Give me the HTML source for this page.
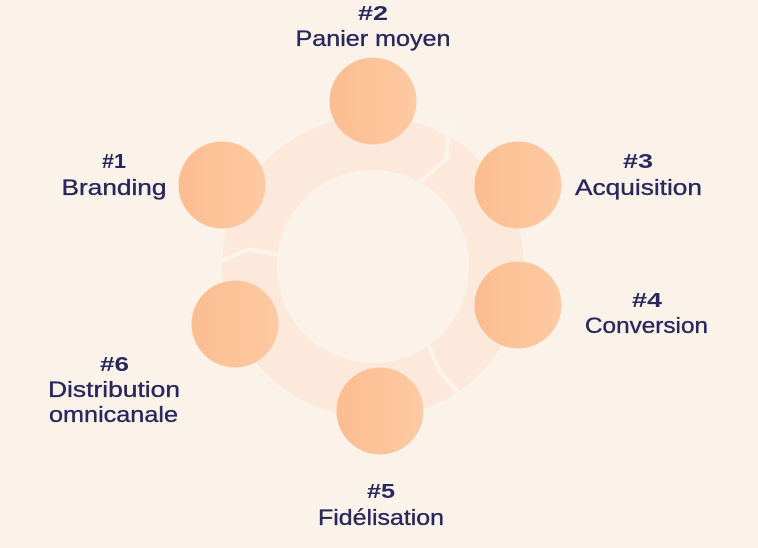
<!DOCTYPE html>
<html>
<head>
<meta charset="utf-8">
<style>
  html,body{margin:0;padding:0;background:#fbf3ea;}
  body{width:758px;height:548px;overflow:hidden;}
  svg{display:block;}
  .b{font-family:"Liberation Sans",sans-serif;font-weight:bold;font-size:20px;fill:#29285c;}
  .r{font-family:"Liberation Sans",sans-serif;font-size:22px;fill:#29285c;stroke:#29285c;stroke-width:0.35px;}
</style>
</head>
<body>
<svg width="758" height="548" viewBox="0 0 758 548" xmlns="http://www.w3.org/2000/svg">
  <defs>
    <linearGradient id="g" x1="0" y1="0" x2="1" y2="0">
      <stop offset="0" stop-color="#fcbd90"/>
      <stop offset="1" stop-color="#fdcaa3"/>
    </linearGradient>
  </defs>
  <rect width="758" height="548" fill="#fbf3ea"/>
  <!-- ring -->
  <circle cx="373" cy="267" r="123.5" fill="none" stroke="#fce9dc" stroke-width="55"/>
  <circle cx="373" cy="266" r="96" fill="#fbf3ea"/>
  <!-- gaps -->
  <path d="M448 118 L447 158 L420 182" fill="none" stroke="#fbf4ec" stroke-width="4"/>
  <path d="M218 262 L250 249 L282 256" fill="none" stroke="#fbf4ec" stroke-width="4"/>
  <path d="M428 345 L440 372 L462 396" fill="none" stroke="#fbf4ec" stroke-width="4"/>
  <!-- circles -->
  <circle cx="373" cy="101" r="43.5" fill="url(#g)"/>
  <circle cx="222" cy="185" r="43.5" fill="url(#g)"/>
  <circle cx="518" cy="185" r="43.5" fill="url(#g)"/>
  <circle cx="518" cy="305" r="43.5" fill="url(#g)"/>
  <circle cx="235" cy="324" r="43.5" fill="url(#g)"/>
  <circle cx="380" cy="411" r="43.5" fill="url(#g)"/>
  <!-- labels -->
  <text class="b" x="373" y="20" text-anchor="middle" textLength="30" lengthAdjust="spacingAndGlyphs">#2</text>
  <text class="r" x="373" y="46" text-anchor="middle" textLength="155" lengthAdjust="spacingAndGlyphs">Panier moyen</text>

  <text class="b" x="114" y="168" text-anchor="middle" textLength="24" lengthAdjust="spacingAndGlyphs">#1</text>
  <text class="r" x="114" y="195" text-anchor="middle" textLength="105" lengthAdjust="spacingAndGlyphs">Branding</text>

  <text class="b" x="638" y="168" text-anchor="middle" textLength="30" lengthAdjust="spacingAndGlyphs">#3</text>
  <text class="r" x="638.5" y="195" text-anchor="middle" textLength="127" lengthAdjust="spacingAndGlyphs">Acquisition</text>

  <text class="b" x="647" y="307" text-anchor="middle" textLength="30" lengthAdjust="spacingAndGlyphs">#4</text>
  <text class="r" x="646.5" y="333" text-anchor="middle" textLength="123" lengthAdjust="spacingAndGlyphs">Conversion</text>

  <text class="b" x="114.5" y="371" text-anchor="middle" textLength="29" lengthAdjust="spacingAndGlyphs">#6</text>
  <text class="r" x="114" y="397" text-anchor="middle" textLength="132" lengthAdjust="spacingAndGlyphs">Distribution</text>
  <text class="r" x="113.5" y="422" text-anchor="middle" textLength="129" lengthAdjust="spacingAndGlyphs">omnicanale</text>

  <text class="b" x="381" y="498" text-anchor="middle" textLength="28" lengthAdjust="spacingAndGlyphs">#5</text>
  <text class="r" x="381" y="525" text-anchor="middle" textLength="126" lengthAdjust="spacingAndGlyphs">Fidélisation</text>
</svg>
</body>
</html>
